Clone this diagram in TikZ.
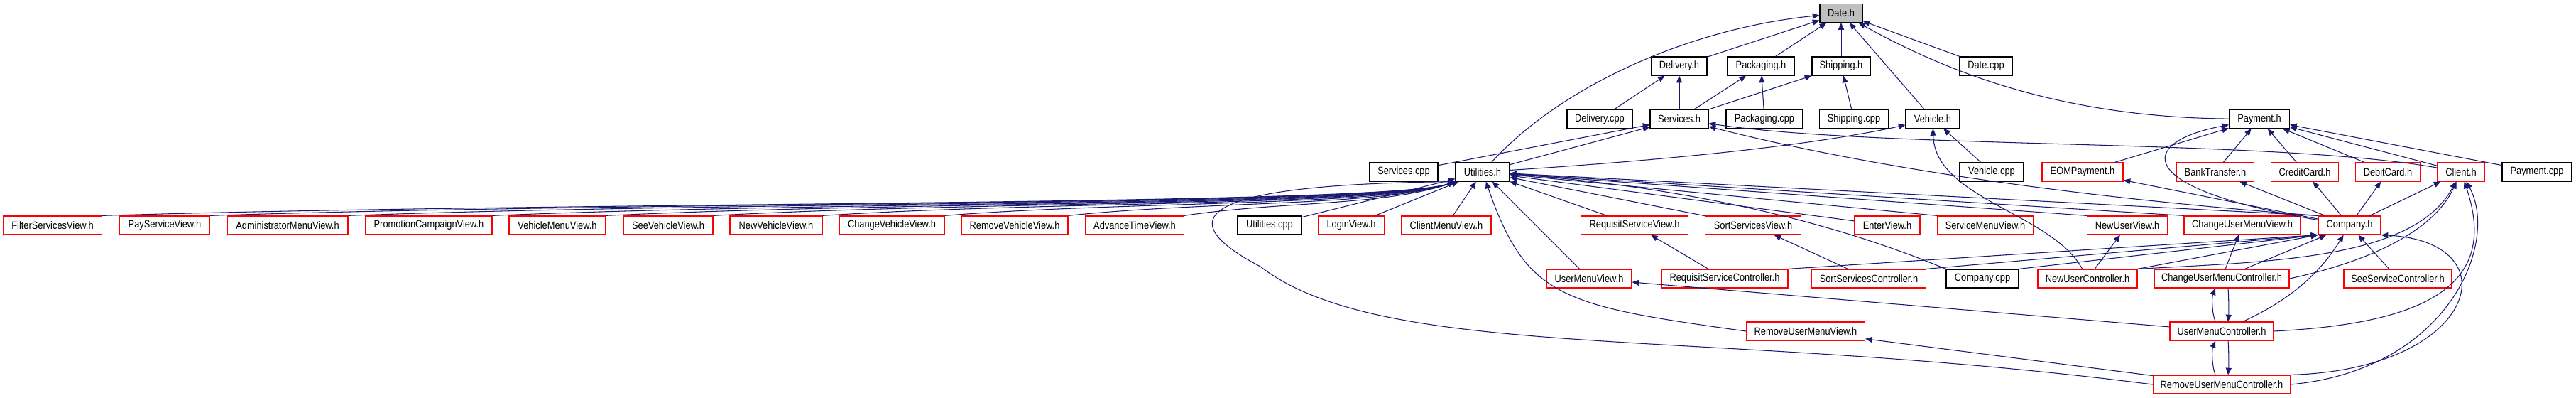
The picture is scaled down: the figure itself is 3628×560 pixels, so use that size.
\documentclass[tikz,border=0pt]{standalone}
\usepackage{fontspec}
\newfontfamily\doxfont[FakeStretch=0.86]{Liberation Sans}
\usepackage{xcolor}
\usepackage{tikz}
\usetikzlibrary{arrows.meta, positioning, calc}
\definecolor{edgeblue}{RGB}{25, 25, 112}
\definecolor{rootgray}{RGB}{191, 191, 191}
\definecolor{hdrred}{RGB}{255, 0, 0}

\begin{document}
\begin{tikzpicture}[
  x={(0.02cm,0)}, y={(0,-0.02cm)},
  file/.style={rectangle, draw=black, fill=white, line width=0.7pt,
               minimum height=0.52cm, inner sep=0pt,
               font=\doxfont\fontsize{8.5pt}{9pt}\selectfont},
  redfile/.style={file, draw=hdrred},
  rootfile/.style={file, fill=rootgray},
  dep/.style={draw=edgeblue, line width=0.6pt,
              -{Triangle[length=5.5pt, width=4.6pt]}}
]
  \useasboundingbox (0,0) rectangle (3628,560);

  % ── Nodes: top rows ────────────────────────────────────────────────────────
  \node[rootfile, minimum width=1.20cm] (date) at (2593, 18.5) {Date.h};

  \node[file, minimum width=1.56cm] (delivh)  at (2365, 93) {Delivery.h};
  \node[file, minimum width=1.88cm] (packh)   at (2480, 93) {Packaging.h};
  \node[file, minimum width=1.64cm] (shiph)   at (2593, 93) {Shipping.h};
  \node[file, minimum width=1.48cm] (datecpp) at (2797, 93) {Date.cpp};

  \node[file, minimum width=1.84cm] (delivcpp) at (2253, 167.5) {Delivery.cpp};
  \node[file, minimum width=1.64cm] (servh)    at (2365, 167.5) {Services.h};
  \node[file, minimum width=2.16cm] (packcpp)  at (2485, 167.5) {Packaging.cpp};
  \node[file, minimum width=1.94cm] (shipcpp)  at (2611, 167.5) {Shipping.cpp};
  \node[file, minimum width=1.52cm] (vehh)     at (2722, 167.5) {Vehicle.h};
  \node[file, minimum width=1.70cm] (payh)     at (3182, 167.5) {Payment.h};

  \node[file, minimum width=1.92cm]    (servcpp) at (1977, 242) {Services.cpp};
  \node[file, minimum width=1.52cm]    (util)    at (2088, 242) {Utilities.h};
  \node[file, minimum width=1.80cm]    (vehcpp)  at (2805, 242) {Vehicle.cpp};
  \node[redfile, minimum width=2.28cm] (eomh)    at (2933, 242) {EOMPayment.h};
  \node[redfile, minimum width=2.18cm] (bankh)   at (3120, 242) {BankTransfer.h};
  \node[redfile, minimum width=1.90cm] (credh)   at (3246, 242) {CreditCard.h};
  \node[redfile, minimum width=1.82cm] (debh)    at (3363, 242) {DebitCard.h};
  \node[redfile, minimum width=1.34cm] (clienth) at (3466, 242) {Client.h};
  \node[file, minimum width=1.96cm]    (paycpp)  at (3573, 242) {Payment.cpp};

  % ── Nodes: views row ───────────────────────────────────────────────────────
  \node[redfile, minimum width=2.78cm] (filtersv)  at (74, 317)   {FilterServicesView.h};
  \node[redfile, minimum width=2.54cm] (paysv)     at (232, 317)  {PayServiceView.h};
  \node[redfile, minimum width=3.40cm] (adminmv)   at (405, 317)  {AdministratorMenuView.h};
  \node[redfile, minimum width=3.56cm] (promocv)   at (604, 317)  {PromotionCampaignView.h};
  \node[redfile, minimum width=2.72cm] (vehmv)     at (785, 317)  {VehicleMenuView.h};
  \node[redfile, minimum width=2.52cm] (seevv)     at (941, 317)  {SeeVehicleView.h};
  \node[redfile, minimum width=2.60cm] (newvv)     at (1093, 317) {NewVehicleView.h};
  \node[redfile, minimum width=2.96cm] (changevv)  at (1256, 317) {ChangeVehicleView.h};
  \node[redfile, minimum width=3.00cm] (removevv)  at (1429, 317) {RemoveVehicleView.h};
  \node[redfile, minimum width=2.78cm] (advtv)     at (1598, 317) {AdvanceTimeView.h};
  \node[file, minimum width=1.82cm]    (utilcpp)   at (1788, 317) {Utilities.cpp};
  \node[redfile, minimum width=1.86cm] (loginv)    at (1903, 317) {LoginView.h};
  \node[redfile, minimum width=2.52cm] (clientmv)  at (2037, 317) {ClientMenuView.h};
  \node[redfile, minimum width=3.02cm] (reqsv)     at (2302, 317) {RequisitServiceView.h};
  \node[redfile, minimum width=2.70cm] (sortsv)    at (2469, 317) {SortServicesView.h};
  \node[redfile, minimum width=1.84cm] (enterv)    at (2658, 317) {EnterView.h};
  \node[redfile, minimum width=2.70cm] (servmv)    at (2796, 317) {ServiceMenuView.h};
  \node[redfile, minimum width=2.26cm] (newuv)     at (2996, 317) {NewUserView.h};
  \node[redfile, minimum width=3.28cm] (changeumv) at (3158, 317) {ChangeUserMenuView.h};
  \node[redfile, minimum width=1.76cm] (comph)     at (3309, 317) {Company.h};

  % ── Nodes: controllers ─────────────────────────────────────────────────────
  \node[redfile, minimum width=2.40cm] (usermv)    at (2238, 392) {UserMenuView.h};
  \node[redfile, minimum width=3.56cm] (reqsc)     at (2429, 392) {RequisitServiceController.h};
  \node[redfile, minimum width=3.22cm] (sortsc)    at (2632, 392) {SortServicesController.h};
  \node[file, minimum width=2.04cm]    (compcpp)   at (2792, 392) {Company.cpp};
  \node[redfile, minimum width=2.80cm] (newuc)     at (2940, 392) {NewUserController.h};
  \node[redfile, minimum width=3.80cm] (changeumc) at (3129, 392) {ChangeUserMenuController.h};
  \node[redfile, minimum width=3.04cm] (seesc)     at (3377, 392) {SeeServiceController.h};

  \node[redfile, minimum width=3.34cm] (removeumv) at (2543, 466) {RemoveUserMenuView.h};
  \node[redfile, minimum width=2.92cm] (usermc)    at (3129, 466) {UserMenuController.h};
  \node[redfile, minimum width=3.86cm] (removeumc) at (3129, 541) {RemoveUserMenuController.h};

  \coordinate (loopturn) at (1775, 375);

  % ── Connections: into Date.h ───────────────────────────────────────────────
  \draw[dep] (delivh) -- (date);
  \draw[dep] (packh) -- (date);
  \draw[dep] (shiph) -- (date);
  \draw[dep] (datecpp) -- (date);
  \draw[dep] (vehh) -- (date);
  \draw[dep] (payh) .. controls (2900,165) and (2740,100) .. (date);
  \draw[dep] (util) .. controls (2200,120) and (2380,40) .. (date);

  % ── Connections: Delivery, Packaging, Shipping, Services ───────────────────
  \draw[dep] (delivcpp) -- (delivh);
  \draw[dep] (servh) -- (delivh);
  \draw[dep] (servh) -- (packh);
  \draw[dep] (packcpp) -- (packh);
  \draw[dep] (servh) -- (shiph);
  \draw[dep] (shipcpp) -- (shiph);
  \draw[dep] (servcpp) -- (servh);
  \draw[dep] (util) -- (servh);
  \draw[dep] (clienth) .. controls (3200,195) and (2650,210) .. (servh);
  \draw[dep] (comph.north west) .. controls (2950,280) and (2650,240) .. (servh);

  % ── Connections: Vehicle.h ─────────────────────────────────────────────────
  \draw[dep] (util) .. controls (2350,225) and (2550,205) .. (vehh);
  \draw[dep] (vehcpp) -- (vehh);
  \draw[dep] (newuc) .. controls (2890,300) and (2725,280) .. (vehh);

  % ── Connections: Payment.h ─────────────────────────────────────────────────
  \draw[dep] (eomh) -- (payh);
  \draw[dep] (comph) .. controls (3000,265) and (3010,200) .. (payh);
  \draw[dep] (bankh) -- (payh);
  \draw[dep] (credh) -- (payh);
  \draw[dep] (debh) -- (payh);
  \draw[dep] (clienth) -- (payh);
  \draw[dep] (paycpp) -- (payh);

  % ── Connections: views → Utilities.h ───────────────────────────────────────
  \draw[dep] (filtersv.north east) .. controls (811,283) and (1950,290) .. (util.south west);
  \draw[dep] (paysv.north east) .. controls (909,283) and (1950,290) .. (util.south west);
  \draw[dep] (adminmv.north east) .. controls (1036,283) and (1950,290) .. (util.south west);
  \draw[dep] (promocv.north east) .. controls (1168,283) and (1950,290) .. (util.south west);
  \draw[dep] (vehmv.north east) .. controls (1272,283) and (1950,290) .. (util.south west);
  \draw[dep] (seevv.north east) .. controls (1370,283) and (1950,290) .. (util.south west);
  \draw[dep] (newvv.north east) .. controls (1470,283) and (1950,290) .. (util.south west);
  \draw[dep] (changevv.north east) .. controls (1582,283) and (1950,290) .. (util.south west);
  \draw[dep] (removevv.north east) .. controls (1695,283) and (1950,290) .. (util.south west);
  \draw[dep] (advtv.north east) .. controls (1802,283) and (1950,290) .. (util.south west);
  \draw[dep] (utilcpp) -- (util);
  \draw[dep] (loginv) -- (util);
  \draw[dep] (clientmv) -- (util);
  \draw[dep] (reqsv) -- (util);
  \draw[dep] (sortsv) -- (util);
  \draw[dep] (enterv) -- (util);
  \draw[dep] (servmv.north west) -- (util);
  \draw[dep] (newuv.north west) -- (util);
  \draw[dep] (changeumv.north west) -- (util);
  \draw[dep] (comph.north west) -- (util);
  \draw[dep] (usermv) -- (util);
  \draw[dep] (removeumv.west) .. controls (2200,430) and (2150,420) .. (util);
  \draw[dep] (compcpp.north west) .. controls (2600,320) and (2400,265) .. (util);
  \draw[dep] (removeumc.west) .. controls (2400,460) and (1950,510) .. (loopturn)
    .. controls (1670,320) and (1640,260) .. (util.south west);

  % ── Connections: into Company.h ────────────────────────────────────────────
  \draw[dep] (reqsc.north east) -- (comph.south west);
  \draw[dep] (sortsc.north east) -- (comph.south west);
  \draw[dep] (compcpp.north east) -- (comph.south west);
  \draw[dep] (newuc.north east) -- (comph.south west);
  \draw[dep] (changeumc) -- (comph);
  \draw[dep] (usermc) .. controls (3230,420) and (3270,380) .. (comph);
  \draw[dep] (removeumc.north east) .. controls (3490,520) and (3540,340) .. (comph.south east);
  \draw[dep] (seesc) -- (comph);

  % ── Connections: Company.h → payment types ─────────────────────────────────
  \draw[dep] (comph) -- (eomh);
  \draw[dep] (comph) -- (bankh);
  \draw[dep] (comph) -- (credh);
  \draw[dep] (comph) -- (debh);
  \draw[dep] (comph) -- (clienth);

  % ── Connections: controllers → Client.h ────────────────────────────────────
  \draw[dep] (newuc.north east) .. controls (3200,368) and (3400,365) .. (clienth);
  \draw[dep] (changeumc.east) .. controls (3350,365) and (3430,320) .. (clienth);
  \draw[dep] (usermc.east) .. controls (3420,455) and (3520,400) .. (clienth);
  \draw[dep] (removeumc.east) .. controls (3450,520) and (3520,340) .. (clienth);

  % ── Connections: controllers → views ───────────────────────────────────────
  \draw[dep] (reqsc) -- (reqsv);
  \draw[dep] (sortsc) -- (sortsv);
  \draw[dep] (newuc) -- (newuv);
  \draw[dep] (changeumc) -- (changeumv);
  \draw[dep] (usermc) -- (usermv);
  \draw[dep] (removeumc) -- (removeumv);

  % ── Connections: mutual includes ───────────────────────────────────────────
  \draw[dep] ([xshift=-0.18cm]usermc.north) .. controls (3115,440) and (3115,418)
    .. ([xshift=-0.18cm]changeumc.south);
  \draw[dep] ([xshift=0.18cm]changeumc.south) .. controls (3139,420) and (3139,440)
    .. ([xshift=0.18cm]usermc.north);
  \draw[dep] ([xshift=-0.18cm]removeumc.north) .. controls (3115,515) and (3115,492)
    .. ([xshift=-0.18cm]usermc.south);
  \draw[dep] ([xshift=0.18cm]usermc.south) .. controls (3139,492) and (3139,515)
    .. ([xshift=0.18cm]removeumc.north);
\end{tikzpicture}
\end{document}
